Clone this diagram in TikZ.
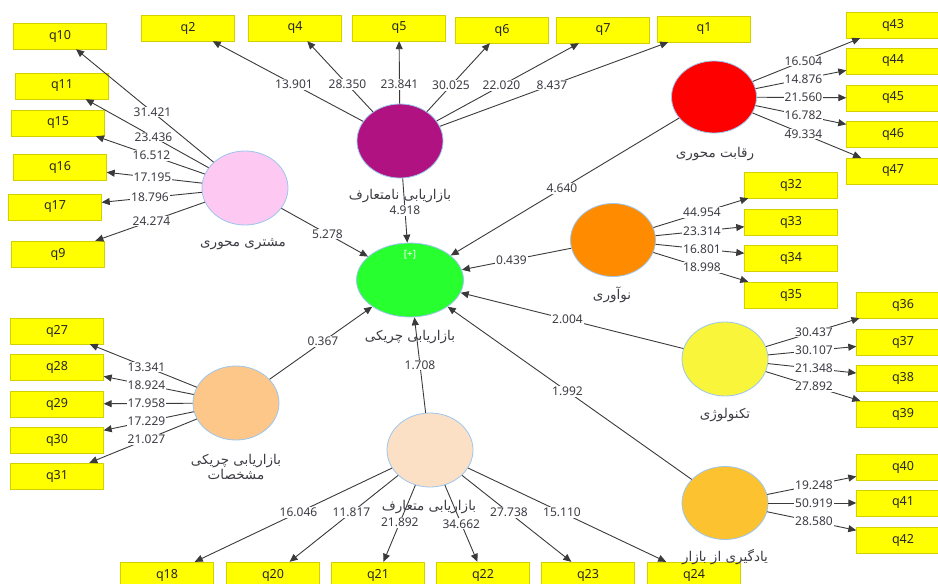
\documentclass[tikz,border=0pt]{standalone}
\usepackage{fontspec}
\setmainfont{Noto Sans}
\newfontfamily\farsi[Script=Arabic]{DejaVu Sans}
\TeXXeTstate=1
\usetikzlibrary{arrows.meta,shapes.geometric}
\pgfdeclarelayer{front}
\pgfsetlayers{main,front}
\definecolor{itemyellow}{HTML}{FFFF00}
\definecolor{boxedge}{HTML}{D4D000}
\definecolor{rimblue}{HTML}{9CC6EE}
\definecolor{linegray}{HTML}{3A3A3A}
\definecolor{numgray}{HTML}{3C3C44}
\definecolor{cmagenta}{HTML}{B01282}
\definecolor{cgreen}{HTML}{27FF2E}
\definecolor{cpink}{HTML}{FDC8F2}
\definecolor{cred}{HTML}{FF0000}
\definecolor{corange}{HTML}{FF8C00}
\definecolor{cyellow}{HTML}{F9F53B}
\definecolor{cgold}{HTML}{FCC22F}
\definecolor{cpeach}{HTML}{FDC78A}
\definecolor{cbisque}{HTML}{FCE0C6}

\begin{document}
\begin{tikzpicture}[x=1pt,y=-1pt,
  item/.style={rectangle,draw=boxedge,fill=itemyellow,minimum width=93pt,minimum height=26pt,inner sep=0pt,font=\fontsize{12.5}{14}\selectfont,text=black!85},
  latent/.style={ellipse,draw=rimblue,line width=0.8pt,minimum width=86pt,minimum height=74pt,inner sep=0pt},
  link/.style={draw=linegray,line width=0.9pt,-{Triangle[length=8pt,width=7pt]}},
  tval/.style={fill=white,inner sep=1pt,font=\fontsize{12}{14}\selectfont,text=numgray},
  fa/.style={font=\farsi\fontsize{13.5}{15}\selectfont,text=numgray,inner sep=0pt}]
\useasboundingbox (0,0) rectangle (938,584);

% Indicators
\foreach \n/\x/\y in {q10/60/36, q11/62/86, q15/58/123, q16/60/167, q17/55/207, q9/58/254,
  q2/188/28, q4/295/28, q5/399/28, q6/502/30, q7/603/30, q1/704/29,
  q43/893/25, q44/893/61, q45/893/98, q46/893/134, q47/893/171,
  q32/791/185, q33/791/222, q34/791/258, q35/791/295,
  q36/903/305, q37/903/342, q38/903/378, q39/903/414,
  q40/903/467, q41/903/503, q42/903/540,
  q27/57/331, q28/57/367, q29/57/404, q30/57/440, q31/57/476,
  q18/167/575, q20/273/575, q21/378/575, q22/483/575, q23/588/575, q24/694/575}
  \node[item] (\n) at (\x,\y) {\n};

% Constructs
\node[latent,fill=cmagenta] (nontrad) at (400,141) {};
\node[latent,fill=cgreen,minimum width=107pt] (guer) at (410,280) {};
\node[latent,fill=cpink] (cust) at (245,188) {};
\node[latent,fill=cred,minimum width=85pt,minimum height=72pt] (compet) at (714,97) {};
\node[latent,fill=corange,minimum width=85pt,minimum height=73pt] (innov) at (613,240) {};
\node[latent,fill=cyellow] (tech) at (725,359) {};
\node[latent,fill=cgold,minimum height=73pt] (learn) at (725,503) {};
\node[latent,fill=cpeach] (guerspec) at (236,403) {};
\node[latent,fill=cbisque] (trad) at (430,450) {};
\node[text=white,font=\fontsize{10}{12}\selectfont] (plus) at (410,255) {[+]};

% Outer model
\foreach \src/\q/\t in {nontrad/q2/13.901, nontrad/q4/28.350, nontrad/q5/23.841, nontrad/q6/30.025, nontrad/q7/22.020, nontrad/q1/8.437,
  cust/q10/31.421, cust/q11/23.436, cust/q15/16.512, cust/q16/17.195, cust/q17/18.796, cust/q9/24.274,
  compet/q43/16.504, compet/q44/14.876, compet/q45/21.560, compet/q46/16.782, compet/q47/49.334,
  innov/q32/44.954, innov/q33/23.314, innov/q34/16.801, innov/q35/18.998,
  tech/q36/30.437, tech/q37/30.107, tech/q38/21.348, tech/q39/27.892,
  learn/q40/19.248, learn/q41/50.919, learn/q42/28.580,
  guerspec/q27/13.341, guerspec/q28/18.924, guerspec/q29/17.958, guerspec/q30/17.229, guerspec/q31/21.027,
  trad/q18/16.046, trad/q20/11.817, trad/q23/27.738, trad/q24/15.110}{
  \draw[link] (\src) -- (\q);
  \begin{pgfonlayer}{front}
    \path (\src.center) -- node[tval] {\t} (\q.center);
  \end{pgfonlayer}
}
\draw[link] (trad) -- (q21);
\draw[link] (trad) -- (q22);
\begin{pgfonlayer}{front}
  \path (trad.center) -- node[tval,pos=0.58] {21.892} (q21.center);
  \path (trad.center) -- node[tval,pos=0.59] {34.662} (q22.center);
\end{pgfonlayer}

% Inner model
\foreach \src/\t in {nontrad/4.918, cust/5.278, compet/4.640, innov/0.439, tech/2.004, learn/1.992, guerspec/0.367, trad/1.708}{
  \draw[link] (\src) -- (guer);
  \begin{pgfonlayer}{front}
    \path (\src.center) -- node[tval] {\t} (guer.center);
  \end{pgfonlayer}
}

% Construct names
\begin{pgfonlayer}{front}
\node[fa] (nontradname) at (400,196) {\beginR بازاریابی نامتعارف\endR};
\node[fa] (guername) at (410,337) {\beginR بازاریابی چریکی\endR};
\node[fa] (custname) at (243,244) {\beginR مشتری محوری\endR};
\node[fa] (competname) at (715,154) {\beginR رقابت محوری\endR};
\node[fa] (innovname) at (612,295) {\beginR نوآوری\endR};
\node[fa] (techname) at (725,415) {\beginR تکنولوژی\endR};
\node[fa] (learnname) at (725,557) {\beginR یادگیری از بازار\endR};
\node[fa,align=center] (guerspecname) at (236,467) {\beginR بازاریابی چریکی\endR\\\beginR مشخصات\endR};
\node[fa] (tradname) at (429,507) {\beginR بازاریابی متعارف\endR};
\end{pgfonlayer}
\end{tikzpicture}
\end{document}
